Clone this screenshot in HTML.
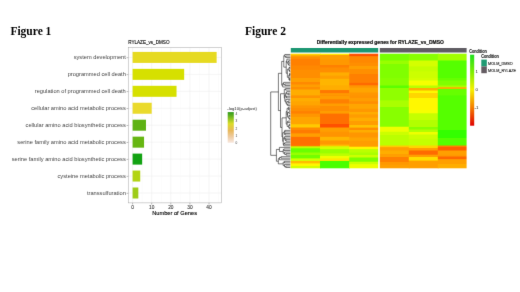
<!DOCTYPE html>
<html><head><meta charset="utf-8"><style>
html,body{margin:0;padding:0;background:#fff;}
body{width:520px;height:292px;overflow:hidden;position:relative;}
svg{position:absolute;left:0;top:0;will-change:transform;}
text{font-family:"Liberation Sans",sans-serif;}
.serif{font-family:"Liberation Serif",serif;font-weight:bold;}
</style></head><body>
<svg width="520" height="292" viewBox="0 0 520 292">
<defs>
<filter id="soft" x="0" y="0" width="520" height="292" filterUnits="userSpaceOnUse" color-interpolation-filters="sRGB"><feConvolveMatrix order="3" kernelMatrix="0.005 0.062 0.005 0.062 0.732 0.062 0.005 0.062 0.005" edgeMode="duplicate"/></filter>
<linearGradient id="hc0" gradientUnits="userSpaceOnUse" x1="0" y1="53.7" x2="0" y2="168.3"><stop offset="-0.0017" stop-color="#ffd300"/><stop offset="0.0074" stop-color="#ffd300"/><stop offset="0.0153" stop-color="#ffaf00"/><stop offset="0.0196" stop-color="#ffaf00"/><stop offset="0.0275" stop-color="#ff8e00"/><stop offset="0.0414" stop-color="#ff8e00"/><stop offset="0.0493" stop-color="#ff8000"/><stop offset="0.0990" stop-color="#ff8000"/><stop offset="0.1069" stop-color="#ff8800"/><stop offset="0.1357" stop-color="#ff8800"/><stop offset="0.1435" stop-color="#ff8e00"/><stop offset="0.2081" stop-color="#ff8e00"/><stop offset="0.2160" stop-color="#ff9f00"/><stop offset="0.2430" stop-color="#ff9f00"/><stop offset="0.2509" stop-color="#ff8900"/><stop offset="0.2648" stop-color="#ff8900"/><stop offset="0.2727" stop-color="#ff9e00"/><stop offset="0.2866" stop-color="#ff9e00"/><stop offset="0.2945" stop-color="#ff8f00"/><stop offset="0.3085" stop-color="#ff8f00"/><stop offset="0.3163" stop-color="#ffad00"/><stop offset="0.3599" stop-color="#ffad00"/><stop offset="0.3678" stop-color="#ff9300"/><stop offset="0.3826" stop-color="#ff9300"/><stop offset="0.3905" stop-color="#ffad00"/><stop offset="0.4114" stop-color="#ffad00"/><stop offset="0.4193" stop-color="#ffa500"/><stop offset="0.4472" stop-color="#ffa500"/><stop offset="0.4551" stop-color="#ff9600"/><stop offset="0.4690" stop-color="#ff9600"/><stop offset="0.4769" stop-color="#ff8e00"/><stop offset="0.4978" stop-color="#ff8e00"/><stop offset="0.5057" stop-color="#ff8000"/><stop offset="0.5188" stop-color="#ff8000"/><stop offset="0.5266" stop-color="#ff9600"/><stop offset="0.5476" stop-color="#ff9600"/><stop offset="0.5554" stop-color="#ffa500"/><stop offset="0.6121" stop-color="#ffa500"/><stop offset="0.6200" stop-color="#ffca00"/><stop offset="0.6401" stop-color="#ffca00"/><stop offset="0.6479" stop-color="#ff8b00"/><stop offset="0.6619" stop-color="#ff8b00"/><stop offset="0.6697" stop-color="#ff7b00"/><stop offset="0.6915" stop-color="#ff7b00"/><stop offset="0.6994" stop-color="#ff9e00"/><stop offset="0.7212" stop-color="#ff9e00"/><stop offset="0.7291" stop-color="#ff7000"/><stop offset="0.7971" stop-color="#ff7000"/><stop offset="0.8050" stop-color="#ff8000"/><stop offset="0.8041" stop-color="#ff8000"/><stop offset="0.8120" stop-color="#c1ff00"/><stop offset="0.8216" stop-color="#c1ff00"/><stop offset="0.8294" stop-color="#6aff00"/><stop offset="0.8582" stop-color="#6aff00"/><stop offset="0.8661" stop-color="#99ff00"/><stop offset="0.8800" stop-color="#99ff00"/><stop offset="0.8879" stop-color="#72ff00"/><stop offset="0.9097" stop-color="#72ff00"/><stop offset="0.9175" stop-color="#d3ff00"/><stop offset="0.9315" stop-color="#d3ff00"/><stop offset="0.9394" stop-color="#ffbd00"/><stop offset="0.9533" stop-color="#ffbd00"/><stop offset="0.9612" stop-color="#fff700"/><stop offset="0.9751" stop-color="#fff700"/><stop offset="0.9830" stop-color="#d4ff00"/><stop offset="1.0000" stop-color="#d4ff00"/></linearGradient>
<linearGradient id="hc1" gradientUnits="userSpaceOnUse" x1="0" y1="53.7" x2="0" y2="168.3"><stop offset="-0.0017" stop-color="#ffe700"/><stop offset="0.0074" stop-color="#ffe700"/><stop offset="0.0153" stop-color="#ff9f00"/><stop offset="0.0179" stop-color="#ff9f00"/><stop offset="0.0257" stop-color="#ff9f00"/><stop offset="0.0467" stop-color="#ff9f00"/><stop offset="0.0545" stop-color="#ff9800"/><stop offset="0.0947" stop-color="#ff9800"/><stop offset="0.1025" stop-color="#ff8000"/><stop offset="0.1165" stop-color="#ff8000"/><stop offset="0.1243" stop-color="#ff8e00"/><stop offset="0.1592" stop-color="#ff8e00"/><stop offset="0.1671" stop-color="#ffad00"/><stop offset="0.1872" stop-color="#ffad00"/><stop offset="0.1950" stop-color="#ff9f00"/><stop offset="0.2151" stop-color="#ff9f00"/><stop offset="0.2229" stop-color="#ffb500"/><stop offset="0.2718" stop-color="#ffb500"/><stop offset="0.2797" stop-color="#ffad00"/><stop offset="0.3137" stop-color="#ffad00"/><stop offset="0.3216" stop-color="#ff7800"/><stop offset="0.3416" stop-color="#ff7800"/><stop offset="0.3495" stop-color="#ff9f00"/><stop offset="0.3521" stop-color="#ff9f00"/><stop offset="0.3599" stop-color="#ff9300"/><stop offset="0.3652" stop-color="#ff9300"/><stop offset="0.3730" stop-color="#ff9d00"/><stop offset="0.3940" stop-color="#ff9d00"/><stop offset="0.4018" stop-color="#ff8000"/><stop offset="0.4306" stop-color="#ff8000"/><stop offset="0.4385" stop-color="#ff9d00"/><stop offset="0.4524" stop-color="#ff9d00"/><stop offset="0.4603" stop-color="#ff8e00"/><stop offset="0.4961" stop-color="#ff8e00"/><stop offset="0.5039" stop-color="#ff9d00"/><stop offset="0.5188" stop-color="#ff9d00"/><stop offset="0.5266" stop-color="#ff7000"/><stop offset="0.6095" stop-color="#ff7000"/><stop offset="0.6174" stop-color="#ff5000"/><stop offset="0.6401" stop-color="#ff5000"/><stop offset="0.6479" stop-color="#ff9e00"/><stop offset="0.6767" stop-color="#ff9e00"/><stop offset="0.6846" stop-color="#ff9400"/><stop offset="0.7212" stop-color="#ff9400"/><stop offset="0.7291" stop-color="#ffb500"/><stop offset="0.7535" stop-color="#ffb500"/><stop offset="0.7613" stop-color="#ff9800"/><stop offset="0.7893" stop-color="#ff9800"/><stop offset="0.7971" stop-color="#ffbd00"/><stop offset="0.8041" stop-color="#ffbd00"/><stop offset="0.8120" stop-color="#d4ff00"/><stop offset="0.8294" stop-color="#d4ff00"/><stop offset="0.8373" stop-color="#99ff00"/><stop offset="0.8661" stop-color="#99ff00"/><stop offset="0.8739" stop-color="#bbff00"/><stop offset="0.8879" stop-color="#bbff00"/><stop offset="0.8957" stop-color="#eeff00"/><stop offset="0.9097" stop-color="#eeff00"/><stop offset="0.9175" stop-color="#ffe600"/><stop offset="0.9315" stop-color="#ffe600"/><stop offset="0.9394" stop-color="#49ff00"/><stop offset="1.0000" stop-color="#49ff00"/></linearGradient>
<linearGradient id="hc2" gradientUnits="userSpaceOnUse" x1="0" y1="53.7" x2="0" y2="168.3"><stop offset="-0.0017" stop-color="#ff5900"/><stop offset="0.0039" stop-color="#ff5900"/><stop offset="0.0118" stop-color="#ff4f00"/><stop offset="0.0179" stop-color="#ff4f00"/><stop offset="0.0257" stop-color="#ff8800"/><stop offset="0.0746" stop-color="#ff8800"/><stop offset="0.0825" stop-color="#ff8e00"/><stop offset="0.1025" stop-color="#ff8e00"/><stop offset="0.1104" stop-color="#ff9e00"/><stop offset="0.1305" stop-color="#ff9e00"/><stop offset="0.1383" stop-color="#ff8f00"/><stop offset="0.1732" stop-color="#ff8f00"/><stop offset="0.1811" stop-color="#ff8000"/><stop offset="0.2500" stop-color="#ff8000"/><stop offset="0.2579" stop-color="#ff6a00"/><stop offset="0.2718" stop-color="#ff6a00"/><stop offset="0.2797" stop-color="#ff9600"/><stop offset="0.2928" stop-color="#ff9600"/><stop offset="0.3006" stop-color="#ffa500"/><stop offset="0.3346" stop-color="#ffa500"/><stop offset="0.3425" stop-color="#ff9600"/><stop offset="0.3599" stop-color="#ff9600"/><stop offset="0.3678" stop-color="#ff9300"/><stop offset="0.3826" stop-color="#ff9300"/><stop offset="0.3905" stop-color="#ff9d00"/><stop offset="0.4114" stop-color="#ff9d00"/><stop offset="0.4193" stop-color="#ff8e00"/><stop offset="0.4332" stop-color="#ff8e00"/><stop offset="0.4411" stop-color="#ffa500"/><stop offset="0.4760" stop-color="#ffa500"/><stop offset="0.4839" stop-color="#ff9800"/><stop offset="0.5048" stop-color="#ff9800"/><stop offset="0.5127" stop-color="#ffad00"/><stop offset="0.5257" stop-color="#ffad00"/><stop offset="0.5336" stop-color="#ff9d00"/><stop offset="0.5545" stop-color="#ff9d00"/><stop offset="0.5624" stop-color="#ffad00"/><stop offset="0.5833" stop-color="#ffad00"/><stop offset="0.5912" stop-color="#ff9d00"/><stop offset="0.6191" stop-color="#ff9d00"/><stop offset="0.6270" stop-color="#ffc200"/><stop offset="0.6409" stop-color="#ffc200"/><stop offset="0.6488" stop-color="#ff8e00"/><stop offset="0.6619" stop-color="#ff8e00"/><stop offset="0.6697" stop-color="#ffad00"/><stop offset="0.6837" stop-color="#ffad00"/><stop offset="0.6915" stop-color="#ff9600"/><stop offset="0.7273" stop-color="#ff9600"/><stop offset="0.7352" stop-color="#ffa500"/><stop offset="0.7561" stop-color="#ffa500"/><stop offset="0.7640" stop-color="#ff9d00"/><stop offset="0.7962" stop-color="#ff9d00"/><stop offset="0.8041" stop-color="#ff9d00"/><stop offset="0.8076" stop-color="#ff9d00"/><stop offset="0.8154" stop-color="#fff700"/><stop offset="0.8294" stop-color="#fff700"/><stop offset="0.8373" stop-color="#bbff00"/><stop offset="0.8582" stop-color="#bbff00"/><stop offset="0.8661" stop-color="#aaff00"/><stop offset="0.8800" stop-color="#aaff00"/><stop offset="0.8879" stop-color="#ccff00"/><stop offset="0.9018" stop-color="#ccff00"/><stop offset="0.9097" stop-color="#7bff00"/><stop offset="0.9385" stop-color="#7bff00"/><stop offset="0.9463" stop-color="#ccff00"/><stop offset="0.9603" stop-color="#ccff00"/><stop offset="0.9682" stop-color="#eeff00"/><stop offset="1.0000" stop-color="#eeff00"/></linearGradient>
<linearGradient id="hc3" gradientUnits="userSpaceOnUse" x1="0" y1="53.7" x2="0" y2="168.3"><stop offset="-0.0017" stop-color="#77ff00"/><stop offset="0.0554" stop-color="#77ff00"/><stop offset="0.0633" stop-color="#99ff00"/><stop offset="0.0860" stop-color="#99ff00"/><stop offset="0.0938" stop-color="#80ff00"/><stop offset="0.2081" stop-color="#80ff00"/><stop offset="0.2160" stop-color="#88ff00"/><stop offset="0.2736" stop-color="#88ff00"/><stop offset="0.2814" stop-color="#5bff00"/><stop offset="0.2954" stop-color="#5bff00"/><stop offset="0.3032" stop-color="#90ff00"/><stop offset="0.3599" stop-color="#90ff00"/><stop offset="0.3678" stop-color="#90ff00"/><stop offset="0.4036" stop-color="#90ff00"/><stop offset="0.4114" stop-color="#aaff00"/><stop offset="0.4612" stop-color="#aaff00"/><stop offset="0.4690" stop-color="#88ff00"/><stop offset="0.6331" stop-color="#88ff00"/><stop offset="0.6409" stop-color="#eeff00"/><stop offset="0.6767" stop-color="#eeff00"/><stop offset="0.6846" stop-color="#ccff00"/><stop offset="0.7055" stop-color="#ccff00"/><stop offset="0.7134" stop-color="#bbff00"/><stop offset="0.7971" stop-color="#bbff00"/><stop offset="0.8050" stop-color="#ffcc00"/><stop offset="0.8120" stop-color="#ffcc00"/><stop offset="0.8198" stop-color="#ff9f00"/><stop offset="0.8408" stop-color="#ff9f00"/><stop offset="0.8486" stop-color="#ffae00"/><stop offset="0.8713" stop-color="#ffae00"/><stop offset="0.8791" stop-color="#ff9f00"/><stop offset="0.8975" stop-color="#ff9f00"/><stop offset="0.9053" stop-color="#ff8000"/><stop offset="0.9411" stop-color="#ff8000"/><stop offset="0.9490" stop-color="#ff9800"/><stop offset="0.9647" stop-color="#ff9800"/><stop offset="0.9725" stop-color="#ff9f00"/><stop offset="1.0000" stop-color="#ff9f00"/></linearGradient>
<linearGradient id="hc4" gradientUnits="userSpaceOnUse" x1="0" y1="53.7" x2="0" y2="168.3"><stop offset="-0.0017" stop-color="#88ff00"/><stop offset="0.0554" stop-color="#88ff00"/><stop offset="0.0633" stop-color="#d4ff00"/><stop offset="0.1069" stop-color="#d4ff00"/><stop offset="0.1147" stop-color="#c4ff00"/><stop offset="0.1505" stop-color="#c4ff00"/><stop offset="0.1584" stop-color="#ccff00"/><stop offset="0.2081" stop-color="#ccff00"/><stop offset="0.2160" stop-color="#d4ff00"/><stop offset="0.2299" stop-color="#d4ff00"/><stop offset="0.2378" stop-color="#f6ff00"/><stop offset="0.2736" stop-color="#f6ff00"/><stop offset="0.2814" stop-color="#b9ff00"/><stop offset="0.2954" stop-color="#b9ff00"/><stop offset="0.3032" stop-color="#ffad00"/><stop offset="0.3172" stop-color="#ffad00"/><stop offset="0.3250" stop-color="#fff700"/><stop offset="0.3390" stop-color="#fff700"/><stop offset="0.3469" stop-color="#ffd600"/><stop offset="0.3826" stop-color="#ffd600"/><stop offset="0.3905" stop-color="#fff700"/><stop offset="0.4873" stop-color="#fff700"/><stop offset="0.4952" stop-color="#f6ff00"/><stop offset="0.5161" stop-color="#f6ff00"/><stop offset="0.5240" stop-color="#c4ff00"/><stop offset="0.5746" stop-color="#c4ff00"/><stop offset="0.5825" stop-color="#b2ff00"/><stop offset="0.6357" stop-color="#b2ff00"/><stop offset="0.6435" stop-color="#88ff00"/><stop offset="0.6575" stop-color="#88ff00"/><stop offset="0.6654" stop-color="#b2ff00"/><stop offset="0.6793" stop-color="#b2ff00"/><stop offset="0.6872" stop-color="#eeff00"/><stop offset="0.7011" stop-color="#eeff00"/><stop offset="0.7090" stop-color="#ccff00"/><stop offset="0.7378" stop-color="#ccff00"/><stop offset="0.7456" stop-color="#c4ff00"/><stop offset="0.7971" stop-color="#c4ff00"/><stop offset="0.8050" stop-color="#ffd500"/><stop offset="0.8189" stop-color="#ffd500"/><stop offset="0.8268" stop-color="#ff9f00"/><stop offset="0.8408" stop-color="#ff9f00"/><stop offset="0.8486" stop-color="#ff6a00"/><stop offset="0.8774" stop-color="#ff6a00"/><stop offset="0.8853" stop-color="#ff9f00"/><stop offset="0.8975" stop-color="#ff9f00"/><stop offset="0.9053" stop-color="#ffde00"/><stop offset="0.9289" stop-color="#ffde00"/><stop offset="0.9367" stop-color="#ff9f00"/><stop offset="1.0000" stop-color="#ff9f00"/></linearGradient>
<linearGradient id="hc5" gradientUnits="userSpaceOnUse" x1="0" y1="53.7" x2="0" y2="168.3"><stop offset="-0.0017" stop-color="#a2ff00"/><stop offset="0.0554" stop-color="#a2ff00"/><stop offset="0.0633" stop-color="#55ff00"/><stop offset="0.2081" stop-color="#55ff00"/><stop offset="0.2160" stop-color="#66ff00"/><stop offset="0.2299" stop-color="#66ff00"/><stop offset="0.2378" stop-color="#80ff00"/><stop offset="0.2736" stop-color="#80ff00"/><stop offset="0.2814" stop-color="#aaff00"/><stop offset="0.2884" stop-color="#aaff00"/><stop offset="0.2962" stop-color="#ffad00"/><stop offset="0.3032" stop-color="#ffad00"/><stop offset="0.3111" stop-color="#66ff00"/><stop offset="0.3599" stop-color="#66ff00"/><stop offset="0.3678" stop-color="#55ff00"/><stop offset="0.6619" stop-color="#55ff00"/><stop offset="0.6697" stop-color="#33ff00"/><stop offset="0.7317" stop-color="#33ff00"/><stop offset="0.7395" stop-color="#55ff00"/><stop offset="0.7971" stop-color="#55ff00"/><stop offset="0.8050" stop-color="#ff8000"/><stop offset="0.8102" stop-color="#ff8000"/><stop offset="0.8181" stop-color="#ff5f00"/><stop offset="0.8408" stop-color="#ff5f00"/><stop offset="0.8486" stop-color="#ff9f00"/><stop offset="0.8774" stop-color="#ff9f00"/><stop offset="0.8853" stop-color="#ff9800"/><stop offset="0.8931" stop-color="#ff9800"/><stop offset="0.9010" stop-color="#ff6700"/><stop offset="0.9167" stop-color="#ff6700"/><stop offset="0.9245" stop-color="#ff9f00"/><stop offset="0.9586" stop-color="#ff9f00"/><stop offset="0.9664" stop-color="#ffad00"/><stop offset="1.0000" stop-color="#ffad00"/></linearGradient>
<linearGradient id="gl" x1="0" y1="0" x2="0" y2="1">
<stop offset="0" stop-color="#2e9a1c"/><stop offset="0.18" stop-color="#7cbc20"/><stop offset="0.38" stop-color="#dcdc28"/>
<stop offset="0.6" stop-color="#e8b85a"/><stop offset="0.8" stop-color="#eecba0"/><stop offset="1" stop-color="#f8e8e0"/>
</linearGradient>
<linearGradient id="gh" x1="0" y1="0" x2="0" y2="1">
<stop offset="0" stop-color="#1ee01e"/><stop offset="0.25" stop-color="#80ee00"/><stop offset="0.49" stop-color="#f5f000"/>
<stop offset="0.74" stop-color="#f58000"/><stop offset="1" stop-color="#e00000"/>
</linearGradient>
</defs>
<g filter="url(#soft)">
<rect x="0" y="0" width="520" height="292" fill="#fff"/>
<text class="serif" transform="translate(10.4 34.7) scale(0.975 1)" font-size="11.8">Figure 1</text>
<text class="serif" transform="translate(245.0 34.6) scale(0.975 1)" font-size="11.8">Figure 2</text>
<text x="128.2" y="44.4" font-size="4.6" fill="#000" stroke="#000" stroke-width="0.1">RYLAZE_vs_DMSO</text>
<line x1="132.60" y1="47.4" x2="132.60" y2="202.9" stroke="#ebebeb" stroke-width="0.5"/>
<line x1="142.15" y1="47.4" x2="142.15" y2="202.9" stroke="#f5f5f5" stroke-width="0.3"/>
<line x1="151.70" y1="47.4" x2="151.70" y2="202.9" stroke="#ebebeb" stroke-width="0.5"/>
<line x1="161.25" y1="47.4" x2="161.25" y2="202.9" stroke="#f5f5f5" stroke-width="0.3"/>
<line x1="170.80" y1="47.4" x2="170.80" y2="202.9" stroke="#ebebeb" stroke-width="0.5"/>
<line x1="180.35" y1="47.4" x2="180.35" y2="202.9" stroke="#f5f5f5" stroke-width="0.3"/>
<line x1="189.90" y1="47.4" x2="189.90" y2="202.9" stroke="#ebebeb" stroke-width="0.5"/>
<line x1="199.45" y1="47.4" x2="199.45" y2="202.9" stroke="#f5f5f5" stroke-width="0.3"/>
<line x1="209.00" y1="47.4" x2="209.00" y2="202.9" stroke="#ebebeb" stroke-width="0.5"/>
<line x1="218.55" y1="47.4" x2="218.55" y2="202.9" stroke="#f5f5f5" stroke-width="0.3"/>
<line x1="128.2" y1="57.40" x2="221.3" y2="57.40" stroke="#ebebeb" stroke-width="0.5"/>
<line x1="128.2" y1="74.35" x2="221.3" y2="74.35" stroke="#ebebeb" stroke-width="0.5"/>
<line x1="128.2" y1="91.30" x2="221.3" y2="91.30" stroke="#ebebeb" stroke-width="0.5"/>
<line x1="128.2" y1="108.25" x2="221.3" y2="108.25" stroke="#ebebeb" stroke-width="0.5"/>
<line x1="128.2" y1="125.20" x2="221.3" y2="125.20" stroke="#ebebeb" stroke-width="0.5"/>
<line x1="128.2" y1="142.15" x2="221.3" y2="142.15" stroke="#ebebeb" stroke-width="0.5"/>
<line x1="128.2" y1="159.10" x2="221.3" y2="159.10" stroke="#ebebeb" stroke-width="0.5"/>
<line x1="128.2" y1="176.05" x2="221.3" y2="176.05" stroke="#ebebeb" stroke-width="0.5"/>
<line x1="128.2" y1="193.00" x2="221.3" y2="193.00" stroke="#ebebeb" stroke-width="0.5"/>
<rect x="132.6" y="51.90" width="84.04" height="11.0" fill="#e6da20"/>
<rect x="132.6" y="68.85" width="51.57" height="11.0" fill="#d6e000"/>
<rect x="132.6" y="85.80" width="43.93" height="11.0" fill="#d6e000"/>
<rect x="132.6" y="102.75" width="19.10" height="11.0" fill="#eada2c"/>
<rect x="132.6" y="119.70" width="13.37" height="11.0" fill="#5eb214"/>
<rect x="132.6" y="136.65" width="11.46" height="11.0" fill="#66b612"/>
<rect x="132.6" y="153.60" width="9.55" height="11.0" fill="#12a212"/>
<rect x="132.6" y="170.55" width="7.64" height="11.0" fill="#b2d414"/>
<rect x="132.6" y="187.50" width="5.73" height="11.0" fill="#9ecc18"/>
<rect x="128.2" y="47.4" width="93.10000000000002" height="155.5" fill="none" stroke="#959595" stroke-width="0.42"/>
<line x1="126.6" y1="57.70" x2="128.2" y2="57.70" stroke="#555" stroke-width="0.4"/>
<text x="125.79999999999998" y="59.30" text-anchor="end" font-size="5.7" fill="#444">system development</text>
<line x1="126.6" y1="74.65" x2="128.2" y2="74.65" stroke="#555" stroke-width="0.4"/>
<text x="125.79999999999998" y="76.25" text-anchor="end" font-size="5.7" fill="#444">programmed cell death</text>
<line x1="126.6" y1="91.60" x2="128.2" y2="91.60" stroke="#555" stroke-width="0.4"/>
<text x="125.79999999999998" y="93.20" text-anchor="end" font-size="5.7" fill="#444">regulation of programmed cell death</text>
<line x1="126.6" y1="108.55" x2="128.2" y2="108.55" stroke="#555" stroke-width="0.4"/>
<text x="125.79999999999998" y="110.15" text-anchor="end" font-size="5.7" fill="#444">cellular amino acid metabolic process</text>
<line x1="126.6" y1="125.50" x2="128.2" y2="125.50" stroke="#555" stroke-width="0.4"/>
<text x="125.79999999999998" y="127.10" text-anchor="end" font-size="5.7" fill="#444">cellular amino acid biosynthetic process</text>
<line x1="126.6" y1="142.45" x2="128.2" y2="142.45" stroke="#555" stroke-width="0.4"/>
<text x="125.79999999999998" y="144.05" text-anchor="end" font-size="5.7" fill="#444">serine family amino acid metabolic process</text>
<line x1="126.6" y1="159.40" x2="128.2" y2="159.40" stroke="#555" stroke-width="0.4"/>
<text x="125.79999999999998" y="161.00" text-anchor="end" font-size="5.7" fill="#444">serine family amino acid biosynthetic process</text>
<line x1="126.6" y1="176.35" x2="128.2" y2="176.35" stroke="#555" stroke-width="0.4"/>
<text x="125.79999999999998" y="177.95" text-anchor="end" font-size="5.7" fill="#444">cysteine metabolic process</text>
<line x1="126.6" y1="193.30" x2="128.2" y2="193.30" stroke="#555" stroke-width="0.4"/>
<text x="125.79999999999998" y="194.90" text-anchor="end" font-size="5.7" fill="#444">transsulfuration</text>
<line x1="132.60" y1="202.9" x2="132.60" y2="204.5" stroke="#555" stroke-width="0.4"/>
<text x="132.60" y="208.6" text-anchor="middle" font-size="4.8" fill="#333" stroke="#333" stroke-width="0.08">0</text>
<line x1="151.70" y1="202.9" x2="151.70" y2="204.5" stroke="#555" stroke-width="0.4"/>
<text x="151.70" y="208.6" text-anchor="middle" font-size="4.8" fill="#333" stroke="#333" stroke-width="0.08">10</text>
<line x1="170.80" y1="202.9" x2="170.80" y2="204.5" stroke="#555" stroke-width="0.4"/>
<text x="170.80" y="208.6" text-anchor="middle" font-size="4.8" fill="#333" stroke="#333" stroke-width="0.08">20</text>
<line x1="189.90" y1="202.9" x2="189.90" y2="204.5" stroke="#555" stroke-width="0.4"/>
<text x="189.90" y="208.6" text-anchor="middle" font-size="4.8" fill="#333" stroke="#333" stroke-width="0.08">30</text>
<line x1="209.00" y1="202.9" x2="209.00" y2="204.5" stroke="#555" stroke-width="0.4"/>
<text x="209.00" y="208.6" text-anchor="middle" font-size="4.8" fill="#333" stroke="#333" stroke-width="0.08">40</text>
<text x="174.6" y="215.4" text-anchor="middle" font-size="5.7" fill="#000" stroke="#000" stroke-width="0.12">Number of Genes</text>
<text transform="translate(227.3 109.5) scale(1.1 1)" font-size="3.85" fill="#222">-log10(p-adjust)</text>
<rect x="227.7" y="112.1" width="6.1" height="30.7" fill="url(#gl)"/>
<g font-size="3.2" fill="#333">
<text x="235.6" y="114.8">4</text><text x="235.6" y="122.3">3</text><text x="235.6" y="129.7">2</text><text x="235.6" y="137.0">1</text><text x="235.6" y="144.0">0</text>
</g>
<text transform="translate(380.3 44.1) scale(0.9 1)" text-anchor="middle" font-size="5.55" font-weight="bold" fill="#111" stroke="#111" stroke-width="0.22">Differentially expressed genes for RYLAZE_vs_DMSO</text>
<rect x="290.8" y="48" width="87.4" height="4.5" fill="#1c9672"/>
<rect x="379.8" y="48" width="86.8" height="4.5" fill="#5f5c63"/>
<g>
<rect x="290.60" y="53.7" width="30.10" height="114.60" fill="url(#hc0)"/>
<rect x="320.00" y="53.7" width="29.90" height="114.60" fill="url(#hc1)"/>
<rect x="349.20" y="53.7" width="29.00" height="114.60" fill="url(#hc2)"/>
<rect x="379.80" y="53.7" width="29.70" height="114.60" fill="url(#hc3)"/>
<rect x="408.80" y="53.7" width="29.70" height="114.60" fill="url(#hc4)"/>
<rect x="437.80" y="53.7" width="28.80" height="114.60" fill="url(#hc5)"/>
</g>
<g stroke="#222" stroke-width="0.6" fill="none">
<line x1="285.79" y1="56.02" x2="285.79" y2="57.57"/>
<line x1="285.79" y1="56.02" x2="290.30" y2="56.02"/>
<line x1="285.79" y1="57.57" x2="290.30" y2="57.57"/>
<line x1="284.80" y1="54.47" x2="284.80" y2="56.80"/>
<line x1="284.80" y1="54.47" x2="290.30" y2="54.47"/>
<line x1="284.80" y1="56.80" x2="285.79" y2="56.80"/>
<line x1="288.70" y1="60.67" x2="288.70" y2="62.22"/>
<line x1="288.70" y1="60.67" x2="290.30" y2="60.67"/>
<line x1="288.70" y1="62.22" x2="290.30" y2="62.22"/>
<line x1="288.75" y1="63.77" x2="288.75" y2="65.31"/>
<line x1="288.75" y1="63.77" x2="290.30" y2="63.77"/>
<line x1="288.75" y1="65.31" x2="290.30" y2="65.31"/>
<line x1="288.10" y1="61.44" x2="288.10" y2="64.54"/>
<line x1="288.10" y1="61.44" x2="288.70" y2="61.44"/>
<line x1="288.10" y1="64.54" x2="288.75" y2="64.54"/>
<line x1="286.90" y1="59.12" x2="286.90" y2="62.99"/>
<line x1="286.90" y1="59.12" x2="290.30" y2="59.12"/>
<line x1="286.90" y1="62.99" x2="288.10" y2="62.99"/>
<line x1="289.70" y1="66.86" x2="289.70" y2="68.41"/>
<line x1="289.70" y1="66.86" x2="290.30" y2="66.86"/>
<line x1="289.70" y1="68.41" x2="290.30" y2="68.41"/>
<line x1="289.48" y1="69.96" x2="289.48" y2="71.51"/>
<line x1="289.48" y1="69.96" x2="290.30" y2="69.96"/>
<line x1="289.48" y1="71.51" x2="290.30" y2="71.51"/>
<line x1="288.92" y1="67.64" x2="288.92" y2="70.74"/>
<line x1="288.92" y1="67.64" x2="289.70" y2="67.64"/>
<line x1="288.92" y1="70.74" x2="289.48" y2="70.74"/>
<line x1="289.70" y1="73.06" x2="289.70" y2="74.61"/>
<line x1="289.70" y1="73.06" x2="290.30" y2="73.06"/>
<line x1="289.70" y1="74.61" x2="290.30" y2="74.61"/>
<line x1="289.70" y1="73.83" x2="289.70" y2="76.16"/>
<line x1="289.70" y1="73.83" x2="289.70" y2="73.83"/>
<line x1="289.70" y1="76.16" x2="290.30" y2="76.16"/>
<line x1="289.70" y1="77.70" x2="289.70" y2="79.25"/>
<line x1="289.70" y1="77.70" x2="290.30" y2="77.70"/>
<line x1="289.70" y1="79.25" x2="290.30" y2="79.25"/>
<line x1="289.70" y1="78.48" x2="289.70" y2="80.80"/>
<line x1="289.70" y1="78.48" x2="289.70" y2="78.48"/>
<line x1="289.70" y1="80.80" x2="290.30" y2="80.80"/>
<line x1="288.82" y1="74.99" x2="288.82" y2="79.64"/>
<line x1="288.82" y1="74.99" x2="289.70" y2="74.99"/>
<line x1="288.82" y1="79.64" x2="289.70" y2="79.64"/>
<line x1="287.35" y1="69.19" x2="287.35" y2="77.32"/>
<line x1="287.35" y1="69.19" x2="288.92" y2="69.19"/>
<line x1="287.35" y1="77.32" x2="288.82" y2="77.32"/>
<line x1="286.20" y1="61.06" x2="286.20" y2="73.25"/>
<line x1="286.20" y1="61.06" x2="286.90" y2="61.06"/>
<line x1="286.20" y1="73.25" x2="287.35" y2="73.25"/>
<line x1="283.80" y1="55.64" x2="283.80" y2="67.15"/>
<line x1="283.80" y1="55.64" x2="284.80" y2="55.64"/>
<line x1="283.80" y1="67.15" x2="286.20" y2="67.15"/>
<line x1="284.93" y1="83.90" x2="284.93" y2="85.45"/>
<line x1="284.93" y1="83.90" x2="290.30" y2="83.90"/>
<line x1="284.93" y1="85.45" x2="290.30" y2="85.45"/>
<line x1="283.65" y1="82.35" x2="283.65" y2="84.67"/>
<line x1="283.65" y1="82.35" x2="290.30" y2="82.35"/>
<line x1="283.65" y1="84.67" x2="284.93" y2="84.67"/>
<line x1="282.70" y1="83.51" x2="282.70" y2="87.00"/>
<line x1="282.70" y1="83.51" x2="283.65" y2="83.51"/>
<line x1="282.70" y1="87.00" x2="290.30" y2="87.00"/>
<line x1="281.70" y1="61.39" x2="281.70" y2="85.25"/>
<line x1="281.70" y1="61.39" x2="283.80" y2="61.39"/>
<line x1="281.70" y1="85.25" x2="282.70" y2="85.25"/>
<line x1="285.63" y1="88.54" x2="285.63" y2="90.09"/>
<line x1="285.63" y1="88.54" x2="290.30" y2="88.54"/>
<line x1="285.63" y1="90.09" x2="290.30" y2="90.09"/>
<line x1="288.13" y1="93.19" x2="288.13" y2="94.74"/>
<line x1="288.13" y1="93.19" x2="290.30" y2="93.19"/>
<line x1="288.13" y1="94.74" x2="290.30" y2="94.74"/>
<line x1="286.70" y1="91.64" x2="286.70" y2="93.96"/>
<line x1="286.70" y1="91.64" x2="290.30" y2="91.64"/>
<line x1="286.70" y1="93.96" x2="288.13" y2="93.96"/>
<line x1="286.51" y1="96.29" x2="286.51" y2="97.84"/>
<line x1="286.51" y1="96.29" x2="290.30" y2="96.29"/>
<line x1="286.51" y1="97.84" x2="290.30" y2="97.84"/>
<line x1="285.77" y1="92.80" x2="285.77" y2="97.06"/>
<line x1="285.77" y1="92.80" x2="286.70" y2="92.80"/>
<line x1="285.77" y1="97.06" x2="286.51" y2="97.06"/>
<line x1="288.17" y1="100.93" x2="288.17" y2="102.48"/>
<line x1="288.17" y1="100.93" x2="290.30" y2="100.93"/>
<line x1="288.17" y1="102.48" x2="290.30" y2="102.48"/>
<line x1="287.68" y1="104.03" x2="287.68" y2="105.58"/>
<line x1="287.68" y1="104.03" x2="290.30" y2="104.03"/>
<line x1="287.68" y1="105.58" x2="290.30" y2="105.58"/>
<line x1="286.81" y1="101.71" x2="286.81" y2="104.81"/>
<line x1="286.81" y1="101.71" x2="288.17" y2="101.71"/>
<line x1="286.81" y1="104.81" x2="287.68" y2="104.81"/>
<line x1="285.85" y1="99.39" x2="285.85" y2="103.26"/>
<line x1="285.85" y1="99.39" x2="290.30" y2="99.39"/>
<line x1="285.85" y1="103.26" x2="286.81" y2="103.26"/>
<line x1="284.83" y1="94.93" x2="284.83" y2="101.32"/>
<line x1="284.83" y1="94.93" x2="285.77" y2="94.93"/>
<line x1="284.83" y1="101.32" x2="285.85" y2="101.32"/>
<line x1="284.30" y1="89.32" x2="284.30" y2="98.13"/>
<line x1="284.30" y1="89.32" x2="285.63" y2="89.32"/>
<line x1="284.30" y1="98.13" x2="284.83" y2="98.13"/>
<line x1="289.05" y1="108.68" x2="289.05" y2="110.23"/>
<line x1="289.05" y1="108.68" x2="290.30" y2="108.68"/>
<line x1="289.05" y1="110.23" x2="290.30" y2="110.23"/>
<line x1="288.40" y1="107.13" x2="288.40" y2="109.45"/>
<line x1="288.40" y1="107.13" x2="290.30" y2="107.13"/>
<line x1="288.40" y1="109.45" x2="289.05" y2="109.45"/>
<line x1="288.95" y1="111.77" x2="288.95" y2="113.32"/>
<line x1="288.95" y1="111.77" x2="290.30" y2="111.77"/>
<line x1="288.95" y1="113.32" x2="290.30" y2="113.32"/>
<line x1="289.70" y1="114.87" x2="289.70" y2="116.42"/>
<line x1="289.70" y1="114.87" x2="290.30" y2="114.87"/>
<line x1="289.70" y1="116.42" x2="290.30" y2="116.42"/>
<line x1="289.70" y1="117.97" x2="289.70" y2="119.52"/>
<line x1="289.70" y1="117.97" x2="290.30" y2="117.97"/>
<line x1="289.70" y1="119.52" x2="290.30" y2="119.52"/>
<line x1="288.83" y1="115.65" x2="288.83" y2="118.74"/>
<line x1="288.83" y1="115.65" x2="289.70" y2="115.65"/>
<line x1="288.83" y1="118.74" x2="289.70" y2="118.74"/>
<line x1="287.58" y1="112.55" x2="287.58" y2="117.19"/>
<line x1="287.58" y1="112.55" x2="288.95" y2="112.55"/>
<line x1="287.58" y1="117.19" x2="288.83" y2="117.19"/>
<line x1="287.07" y1="108.29" x2="287.07" y2="114.87"/>
<line x1="287.07" y1="108.29" x2="288.40" y2="108.29"/>
<line x1="287.07" y1="114.87" x2="287.58" y2="114.87"/>
<line x1="287.79" y1="121.07" x2="287.79" y2="122.61"/>
<line x1="287.79" y1="121.07" x2="290.30" y2="121.07"/>
<line x1="287.79" y1="122.61" x2="290.30" y2="122.61"/>
<line x1="289.55" y1="124.16" x2="289.55" y2="125.71"/>
<line x1="289.55" y1="124.16" x2="290.30" y2="124.16"/>
<line x1="289.55" y1="125.71" x2="290.30" y2="125.71"/>
<line x1="289.70" y1="127.26" x2="289.70" y2="128.81"/>
<line x1="289.70" y1="127.26" x2="290.30" y2="127.26"/>
<line x1="289.70" y1="128.81" x2="290.30" y2="128.81"/>
<line x1="288.75" y1="124.94" x2="288.75" y2="128.04"/>
<line x1="288.75" y1="124.94" x2="289.55" y2="124.94"/>
<line x1="288.75" y1="128.04" x2="289.70" y2="128.04"/>
<line x1="287.16" y1="121.84" x2="287.16" y2="126.49"/>
<line x1="287.16" y1="121.84" x2="287.79" y2="121.84"/>
<line x1="287.16" y1="126.49" x2="288.75" y2="126.49"/>
<line x1="286.20" y1="111.58" x2="286.20" y2="124.16"/>
<line x1="286.20" y1="111.58" x2="287.07" y2="111.58"/>
<line x1="286.20" y1="124.16" x2="287.16" y2="124.16"/>
<line x1="284.87" y1="130.36" x2="284.87" y2="131.91"/>
<line x1="284.87" y1="130.36" x2="290.30" y2="130.36"/>
<line x1="284.87" y1="131.91" x2="290.30" y2="131.91"/>
<line x1="285.06" y1="133.46" x2="285.06" y2="135.00"/>
<line x1="285.06" y1="133.46" x2="290.30" y2="133.46"/>
<line x1="285.06" y1="135.00" x2="290.30" y2="135.00"/>
<line x1="284.33" y1="131.13" x2="284.33" y2="134.23"/>
<line x1="284.33" y1="131.13" x2="284.87" y2="131.13"/>
<line x1="284.33" y1="134.23" x2="285.06" y2="134.23"/>
<line x1="285.97" y1="139.65" x2="285.97" y2="141.20"/>
<line x1="285.97" y1="139.65" x2="290.30" y2="139.65"/>
<line x1="285.97" y1="141.20" x2="290.30" y2="141.20"/>
<line x1="285.24" y1="138.10" x2="285.24" y2="140.42"/>
<line x1="285.24" y1="138.10" x2="290.30" y2="138.10"/>
<line x1="285.24" y1="140.42" x2="285.97" y2="140.42"/>
<line x1="284.66" y1="136.55" x2="284.66" y2="139.26"/>
<line x1="284.66" y1="136.55" x2="290.30" y2="136.55"/>
<line x1="284.66" y1="139.26" x2="285.24" y2="139.26"/>
<line x1="284.67" y1="142.75" x2="284.67" y2="144.30"/>
<line x1="284.67" y1="142.75" x2="290.30" y2="142.75"/>
<line x1="284.67" y1="144.30" x2="290.30" y2="144.30"/>
<line x1="283.76" y1="143.52" x2="283.76" y2="145.84"/>
<line x1="283.76" y1="143.52" x2="284.67" y2="143.52"/>
<line x1="283.76" y1="145.84" x2="290.30" y2="145.84"/>
<line x1="283.24" y1="137.91" x2="283.24" y2="144.68"/>
<line x1="283.24" y1="137.91" x2="284.66" y2="137.91"/>
<line x1="283.24" y1="144.68" x2="283.76" y2="144.68"/>
<line x1="282.73" y1="132.68" x2="282.73" y2="141.30"/>
<line x1="282.73" y1="132.68" x2="284.33" y2="132.68"/>
<line x1="282.73" y1="141.30" x2="283.24" y2="141.30"/>
<line x1="282.00" y1="117.87" x2="282.00" y2="136.99"/>
<line x1="282.00" y1="117.87" x2="286.20" y2="117.87"/>
<line x1="282.00" y1="136.99" x2="282.73" y2="136.99"/>
<line x1="280.50" y1="93.72" x2="280.50" y2="127.43"/>
<line x1="280.50" y1="93.72" x2="284.30" y2="93.72"/>
<line x1="280.50" y1="127.43" x2="282.00" y2="127.43"/>
<line x1="278.40" y1="73.32" x2="278.40" y2="110.58"/>
<line x1="278.40" y1="73.32" x2="281.70" y2="73.32"/>
<line x1="278.40" y1="110.58" x2="280.50" y2="110.58"/>
<line x1="283.84" y1="148.94" x2="283.84" y2="150.49"/>
<line x1="283.84" y1="148.94" x2="290.30" y2="148.94"/>
<line x1="283.84" y1="150.49" x2="290.30" y2="150.49"/>
<line x1="286.07" y1="153.59" x2="286.07" y2="155.14"/>
<line x1="286.07" y1="153.59" x2="290.30" y2="153.59"/>
<line x1="286.07" y1="155.14" x2="290.30" y2="155.14"/>
<line x1="284.62" y1="152.04" x2="284.62" y2="154.36"/>
<line x1="284.62" y1="152.04" x2="290.30" y2="152.04"/>
<line x1="284.62" y1="154.36" x2="286.07" y2="154.36"/>
<line x1="283.20" y1="149.72" x2="283.20" y2="153.20"/>
<line x1="283.20" y1="149.72" x2="283.84" y2="149.72"/>
<line x1="283.20" y1="153.20" x2="284.62" y2="153.20"/>
<line x1="279.40" y1="147.39" x2="279.40" y2="151.46"/>
<line x1="279.40" y1="147.39" x2="290.30" y2="147.39"/>
<line x1="279.40" y1="151.46" x2="283.20" y2="151.46"/>
<line x1="280.99" y1="156.69" x2="280.99" y2="158.23"/>
<line x1="280.99" y1="156.69" x2="290.30" y2="156.69"/>
<line x1="280.99" y1="158.23" x2="290.30" y2="158.23"/>
<line x1="279.49" y1="157.46" x2="279.49" y2="159.78"/>
<line x1="279.49" y1="157.46" x2="280.99" y2="157.46"/>
<line x1="279.49" y1="159.78" x2="290.30" y2="159.78"/>
<line x1="284.50" y1="161.33" x2="284.50" y2="162.88"/>
<line x1="284.50" y1="161.33" x2="290.30" y2="161.33"/>
<line x1="284.50" y1="162.88" x2="290.30" y2="162.88"/>
<line x1="285.77" y1="165.98" x2="285.77" y2="167.53"/>
<line x1="285.77" y1="165.98" x2="290.30" y2="165.98"/>
<line x1="285.77" y1="167.53" x2="290.30" y2="167.53"/>
<line x1="284.51" y1="164.43" x2="284.51" y2="166.75"/>
<line x1="284.51" y1="164.43" x2="290.30" y2="164.43"/>
<line x1="284.51" y1="166.75" x2="285.77" y2="166.75"/>
<line x1="283.20" y1="162.11" x2="283.20" y2="165.59"/>
<line x1="283.20" y1="162.11" x2="284.50" y2="162.11"/>
<line x1="283.20" y1="165.59" x2="284.51" y2="165.59"/>
<line x1="278.30" y1="158.62" x2="278.30" y2="163.85"/>
<line x1="278.30" y1="158.62" x2="279.49" y2="158.62"/>
<line x1="278.30" y1="163.85" x2="283.20" y2="163.85"/>
<line x1="276.40" y1="149.43" x2="276.40" y2="161.23"/>
<line x1="276.40" y1="149.43" x2="279.40" y2="149.43"/>
<line x1="276.40" y1="161.23" x2="278.30" y2="161.23"/>
<line x1="270.70" y1="91.95" x2="270.70" y2="155.33"/>
<line x1="270.70" y1="91.95" x2="278.40" y2="91.95"/>
<line x1="270.70" y1="155.33" x2="276.40" y2="155.33"/>
</g>
<text transform="translate(469.2 52.5) scale(0.8 1)" font-size="4.7" font-weight="bold" fill="#111" stroke="#111" stroke-width="0.1">Condition</text>
<rect x="470.1" y="54.7" width="4.1" height="71" fill="url(#gh)"/>
<g font-size="4.4" fill="#111">
<text x="475.5" y="73.1">1</text><text x="475.5" y="91.1">0</text><text x="474.6" y="109.3">-1</text>
</g>
<text transform="translate(481.2 57.6) scale(0.8 1)" font-size="4.7" font-weight="bold" fill="#111" stroke="#111" stroke-width="0.1">Condition</text>
<rect x="481.3" y="59.6" width="5.5" height="6.8" fill="#1f9a72"/>
<rect x="481.3" y="66.4" width="5.5" height="6.8" fill="#645c62"/>
<text transform="translate(488 64.9) scale(0.86 1)" font-size="4.4" fill="#111" stroke="#111" stroke-width="0.1">MOLM_DMSO</text>
<text transform="translate(488 71.5) scale(0.86 1)" font-size="4.4" fill="#111" stroke="#111" stroke-width="0.1">MOLM_RYLAZE</text>
</g>
</svg>
</body></html>
